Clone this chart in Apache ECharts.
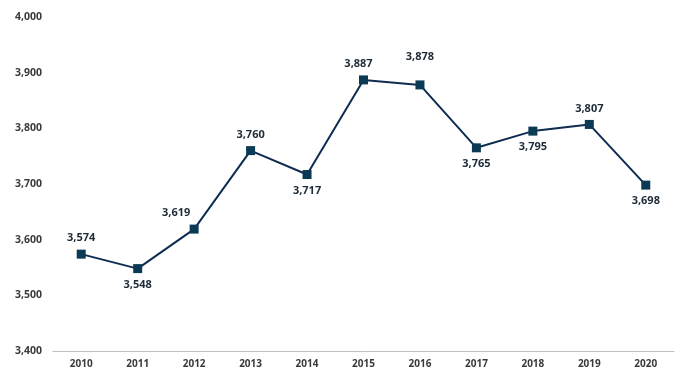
<!DOCTYPE html>
<html>
<head>
<meta charset="utf-8">
<script src="https://cdn.jsdelivr.net/npm/echarts@6/dist/echarts.min.js"></script>
<style>
  html, body { margin: 0; padding: 0; background: #fff; }
  #chart { width: 682px; height: 376px; }
</style>
</head>
<body>
<div id="chart"></div>
<script>
var years = ['2010', '2011', '2012', '2013', '2014', '2015', '2016', '2017', '2018', '2019', '2020'];
var values = [3574, 3548, 3619, 3760, 3717, 3887, 3878, 3765, 3795, 3807, 3698];
// where each value label sits relative to its point
var labelPos = ['top', 'bottom', 'top', 'top', 'bottom', 'top', 'top', 'bottom', 'bottom', 'top', 'bottom'];
var labelOffset = [[0, 0], [0, 0], [-18, 0], [0, 0], [0, 0], [-5, 0], [0, -12], [0, 0], [0, 0], [0, 0], [0, 0]];

var fmt = function (v) {
    return String(v).replace(/\B(?=(\d{3})+(?!\d))/g, ',');
};

var chart = echarts.init(document.getElementById('chart'));

var points = values.map(function (v, i) {
    return {
        value: v,
        label: { position: labelPos[i], offset: labelOffset[i] }
    };
});

chart.setOption({
    animation: false,
    grid: { left: 53, right: 8, top: 17, bottom: 25 },
    xAxis: {
        type: 'category',
        data: years,
        axisLine: { lineStyle: { color: '#bfbfbf', width: 1 } },
        axisTick: { show: false },
        axisLabel: { color: '#3a3a3a', fontSize: 10, fontWeight: 'bold', fontFamily: 'Open Sans', margin: 8 }
    },
    yAxis: {
        type: 'value',
        min: 3400,
        max: 4000,
        interval: 100,
        splitLine: { show: false },
        axisLine: { show: false },
        axisTick: { show: false },
        axisLabel: {
            color: '#3a3a3a', fontSize: 10.5, fontWeight: 'bold', fontFamily: 'Open Sans', margin: 11,
            formatter: fmt
        }
    },
    series: [{
        type: 'line',
        data: points,
        symbol: 'rect',
        symbolSize: 9,
        lineStyle: { color: '#0e2c52', width: 2 },
        itemStyle: { color: '#0b3a55' },
        label: {
            show: true,
            distance: 6,
            color: '#1d2b38',
            fontSize: 11,
            fontWeight: 'bold',
            fontFamily: 'Open Sans',
            formatter: function (p) { return fmt(p.value); }
        }
    }]
});
</script>
</body>
</html>
